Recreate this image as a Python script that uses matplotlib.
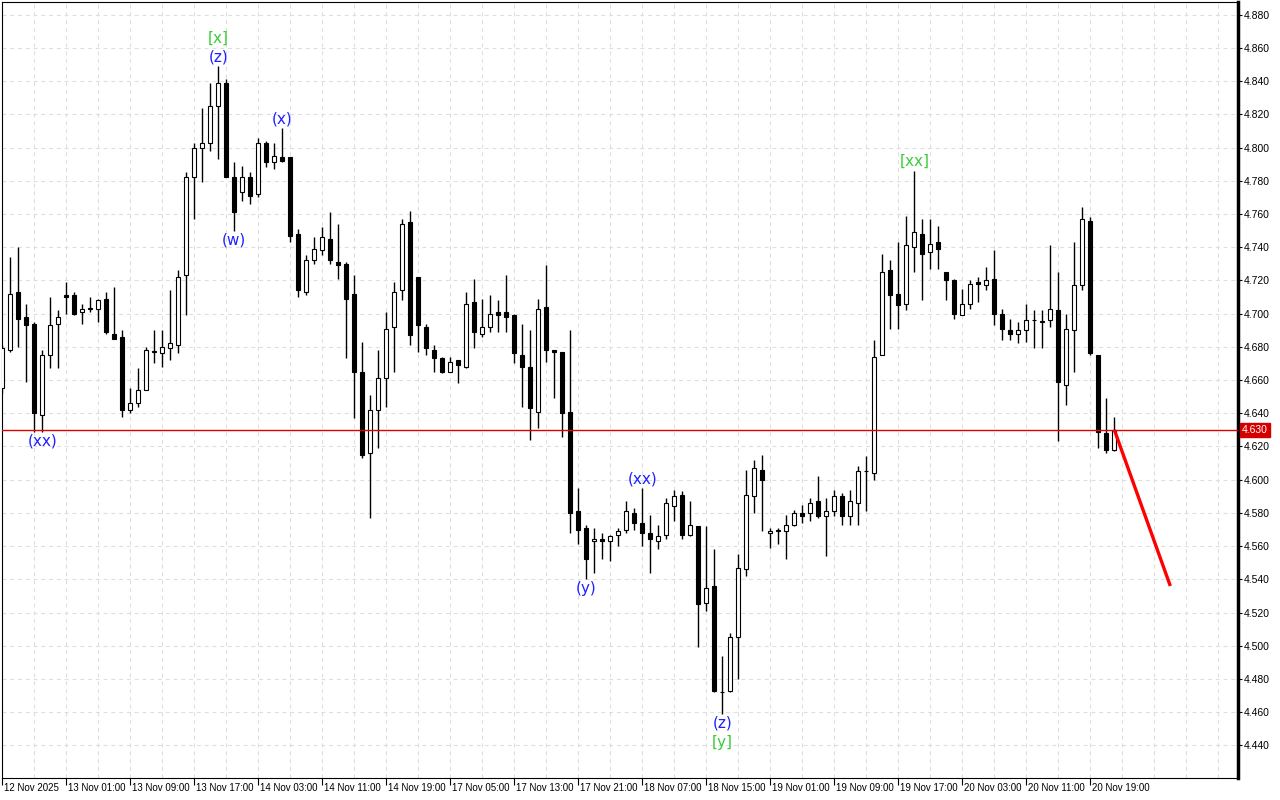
import numpy as np
import matplotlib
matplotlib.use("Agg")
from matplotlib import pyplot as plt
import matplotlib.transforms as mtransforms

# H1 candles (index = candle number from the left)
opens = [4.655, 4.678, 4.713, 4.698, 4.694, 4.639, 4.675, 4.694, 4.711, 4.711,
         4.701, 4.703, 4.703, 4.709, 4.688, 4.686, 4.642, 4.646, 4.654, 4.677,
         4.676, 4.679, 4.681, 4.723, 4.782, 4.800, 4.803, 4.825, 4.839, 4.782,
         4.773, 4.782, 4.772, 4.803, 4.791, 4.794, 4.794, 4.748, 4.713, 4.732,
         4.738, 4.745, 4.731, 4.730, 4.712, 4.665, 4.616, 4.642, 4.661, 4.692,
         4.714, 4.755, 4.722, 4.692, 4.678, 4.673, 4.665, 4.672, 4.668, 4.707,
         4.688, 4.692, 4.701, 4.701, 4.699, 4.675, 4.668, 4.641, 4.704, 4.678,
         4.677, 4.641, 4.581, 4.571, 4.563, 4.564, 4.563, 4.567, 4.570, 4.580,
         4.574, 4.568, 4.563, 4.567, 4.584, 4.591, 4.567, 4.572, 4.526, 4.536,
         4.472, 4.473, 4.505, 4.546, 4.590, 4.606, 4.568, 4.569, 4.569, 4.573,
         4.580, 4.580, 4.587, 4.578, 4.581, 4.590, 4.578, 4.586, 4.605, 4.604,
         4.675, 4.726, 4.712, 4.706, 4.740, 4.748, 4.737, 4.743, 4.725, 4.720,
         4.699, 4.706, 4.719, 4.717, 4.721, 4.700, 4.690, 4.688, 4.690, 4.696,
         4.695, 4.696, 4.702, 4.657, 4.690, 4.717, 4.756, 4.675, 4.628, 4.618]
highs = [4.681, 4.734, 4.740, 4.706, 4.695, 4.678, 4.710, 4.702, 4.719, 4.713,
         4.706, 4.710, 4.709, 4.713, 4.716, 4.690, 4.655, 4.667, 4.680, 4.690,
         4.690, 4.714, 4.726, 4.785, 4.803, 4.824, 4.839, 4.849, 4.841, 4.791,
         4.789, 4.785, 4.806, 4.804, 4.803, 4.812, 4.794, 4.751, 4.735, 4.746,
         4.752, 4.761, 4.754, 4.731, 4.723, 4.683, 4.651, 4.678, 4.701, 4.719,
         4.757, 4.762, 4.722, 4.694, 4.681, 4.674, 4.674, 4.672, 4.713, 4.721,
         4.709, 4.711, 4.708, 4.723, 4.700, 4.694, 4.690, 4.709, 4.729, 4.678,
         4.677, 4.690, 4.595, 4.573, 4.571, 4.568, 4.567, 4.571, 4.587, 4.583,
         4.595, 4.579, 4.573, 4.589, 4.594, 4.593, 4.587, 4.572, 4.572, 4.558,
         4.494, 4.508, 4.555, 4.606, 4.612, 4.615, 4.571, 4.571, 4.579, 4.582,
         4.585, 4.589, 4.602, 4.589, 4.594, 4.592, 4.594, 4.608, 4.614, 4.684,
         4.736, 4.732, 4.743, 4.759, 4.786, 4.757, 4.757, 4.753, 4.725, 4.721,
         4.715, 4.720, 4.722, 4.728, 4.738, 4.703, 4.697, 4.695, 4.706, 4.702,
         4.702, 4.741, 4.725, 4.700, 4.743, 4.764, 4.758, 4.675, 4.649, 4.638]
lows = [4.652, 4.677, 4.680, 4.659, 4.629, 4.629, 4.667, 4.667, 4.700, 4.699,
        4.694, 4.701, 4.695, 4.688, 4.685, 4.638, 4.640, 4.644, 4.654, 4.670,
        4.668, 4.672, 4.676, 4.699, 4.757, 4.779, 4.798, 4.793, 4.782, 4.750,
        4.768, 4.766, 4.770, 4.788, 4.787, 4.791, 4.743, 4.710, 4.711, 4.730,
        4.735, 4.730, 4.721, 4.673, 4.637, 4.613, 4.577, 4.619, 4.644, 4.665,
        4.708, 4.681, 4.677, 4.675, 4.665, 4.664, 4.665, 4.658, 4.667, 4.679,
        4.686, 4.689, 4.689, 4.689, 4.670, 4.644, 4.624, 4.631, 4.671, 4.649,
        4.626, 4.568, 4.561, 4.540, 4.544, 4.552, 4.551, 4.560, 4.568, 4.570,
        4.560, 4.544, 4.558, 4.564, 4.575, 4.564, 4.566, 4.499, 4.521, 4.472,
        4.459, 4.472, 4.480, 4.542, 4.580, 4.569, 4.559, 4.561, 4.552, 4.572,
        4.574, 4.575, 4.577, 4.554, 4.578, 4.573, 4.573, 4.573, 4.581, 4.600,
        4.675, 4.691, 4.691, 4.702, 4.725, 4.708, 4.727, 4.727, 4.708, 4.697,
        4.699, 4.703, 4.707, 4.714, 4.693, 4.684, 4.684, 4.682, 4.683, 4.679,
        4.679, 4.692, 4.623, 4.645, 4.665, 4.714, 4.675, 4.619, 4.616, 4.617]
closes = [4.679, 4.712, 4.697, 4.693, 4.640, 4.675, 4.693, 4.698, 4.710, 4.700,
          4.703, 4.703, 4.708, 4.689, 4.685, 4.642, 4.646, 4.654, 4.678, 4.677,
          4.680, 4.682, 4.722, 4.782, 4.800, 4.803, 4.825, 4.839, 4.782, 4.761,
          4.782, 4.771, 4.803, 4.791, 4.795, 4.792, 4.747, 4.714, 4.732, 4.739,
          4.746, 4.732, 4.729, 4.709, 4.665, 4.615, 4.642, 4.661, 4.691, 4.713,
          4.754, 4.687, 4.693, 4.679, 4.673, 4.665, 4.671, 4.669, 4.706, 4.689,
          4.692, 4.700, 4.699, 4.698, 4.676, 4.668, 4.643, 4.703, 4.678, 4.677,
          4.640, 4.580, 4.570, 4.552, 4.564, 4.563, 4.566, 4.569, 4.581, 4.574,
          4.568, 4.564, 4.566, 4.586, 4.590, 4.567, 4.573, 4.525, 4.535, 4.473,
          4.472, 4.505, 4.547, 4.591, 4.607, 4.600, 4.569, 4.570, 4.573, 4.580,
          4.578, 4.586, 4.578, 4.581, 4.590, 4.578, 4.587, 4.605, 4.605, 4.674,
          4.725, 4.711, 4.705, 4.741, 4.749, 4.736, 4.742, 4.739, 4.720, 4.700,
          4.706, 4.718, 4.718, 4.720, 4.700, 4.691, 4.688, 4.690, 4.696, 4.696,
          4.695, 4.703, 4.659, 4.691, 4.717, 4.757, 4.676, 4.629, 4.618, 4.630]

time_labels = ["12 Nov 2025", "13 Nov 01:00", "13 Nov 09:00", "13 Nov 17:00",
               "14 Nov 03:00", "14 Nov 11:00", "14 Nov 19:00", "17 Nov 05:00",
               "17 Nov 13:00", "17 Nov 21:00", "18 Nov 07:00", "18 Nov 15:00",
               "19 Nov 01:00", "19 Nov 09:00", "19 Nov 17:00", "20 Nov 03:00",
               "20 Nov 11:00", "20 Nov 19:00"]

# wave labels: (candle index, text, colour, above/below, stack level)
wave_labels = [(5, "(xx)", "blue", "low", 0),
               (27, "(z)", "blue", "high", 0),
               (27, "[x]", "green", "high", 1),
               (29, "(w)", "blue", "low", 0),
               (35, "(x)", "blue", "high", 0),
               (73, "(y)", "blue", "low", 0),
               (80, "(xx)", "blue", "high", 0),
               (90, "(z)", "blue", "low", 0),
               (90, "[y]", "green", "low", 1),
               (114, "[xx]", "green", "high", 0)]

last_price = 4.630
forecast_idx = [139, 146]
forecast_price = [4.630, 4.536]

opens = np.array(opens)
highs = np.array(highs)
lows = np.array(lows)
closes = np.array(closes)
idx = np.arange(len(opens))

plt.rcParams['font.family'] = ['DejaVu Sans']
axis_font = 'Liberation Sans'

fig = plt.figure(figsize=(12.8, 8), dpi=100)
ax = fig.add_axes([2/1280, 22/800, 1236/1280, 776/800])
ax.set_xlim(-0.04, 154.46)
ax.set_ylim(4.4204, 4.8876)

# grid
grid_kw = dict(color='#dedede', lw=0.8, ls=(0, (3.5, 3.5)), zorder=0)
for k in range(0, 155, 4):
    ax.axvline(k, **grid_kw)
yt = np.arange(4.44, 4.8801, 0.02)
for p in yt:
    ax.axhline(p, **grid_kw)

# candles
ax.vlines(idx, lows, highs, color='black', lw=1.0, zorder=2)
bull = closes >= opens
bottoms = np.minimum(opens, closes)
heights = np.maximum(np.abs(closes - opens), 0.0004)
ax.bar(idx[bull], heights[bull], bottom=bottoms[bull], width=0.5,
       color='white', edgecolor='black', linewidth=0.8, zorder=3)
ax.bar(idx[~bull], heights[~bull], bottom=bottoms[~bull], width=0.5,
       color='black', edgecolor='black', linewidth=0.8, zorder=3)

# current price line and forecast
ax.axhline(last_price, color='#e00000', lw=1.0, zorder=4)
ax.plot(forecast_idx, forecast_price, color='#ff0000', lw=2.4, zorder=5,
        solid_capstyle='butt')

# wave labels
colors = {"blue": "#1f1fff", "green": "#3acc3a"}
for k, txt, c, side, lvl in wave_labels:
    if side == "high":
        y = highs[k]
        off = 9 + 19 * lvl
    else:
        y = lows[k]
        off = -(9 + 20 * lvl)
    ax.annotate(txt, xy=(k, y), xytext=(0, off), textcoords='offset pixels',
                ha='center', va='center', fontsize=11, color=colors[c], zorder=6)

# axes styling
for s in ['left', 'top', 'bottom']:
    ax.spines[s].set_linewidth(0.8)
ax.spines['right'].set_linewidth(2.5)
ax.yaxis.tick_right()
ax.set_yticks(yt)
ax.set_yticklabels(["%.3f" % v for v in yt], family=axis_font)
ax.tick_params(axis='y', direction='out', length=3, width=0.8, pad=1, labelsize=7.5)

xt = list(range(0, 8 * len(time_labels), 8))
ax.set_xticks(xt)
ax.set_xticklabels([])
ax.tick_params(axis='x', direction='out', length=5, width=0.8)
for k, lab in zip(xt, time_labels):
    ax.annotate(lab, xy=(k, 0), xycoords=('data', 'axes fraction'),
                xytext=(2, -10), textcoords='offset pixels', family=axis_font,
                ha='left', va='center', fontsize=7, annotation_clip=False)

# price tag
trans = mtransforms.blended_transform_factory(ax.transAxes, ax.transData)
ax.annotate("%.3f" % last_price, xy=(1, last_price), xycoords=trans,
            xytext=(4, 0), textcoords='offset pixels', ha='left', va='center',
            fontsize=7.5, color='white', family=axis_font, annotation_clip=False,
            bbox=dict(boxstyle='square,pad=0.2', fc='#d40000', ec='#d40000'))

fig.savefig('out.png', dpi=100)
